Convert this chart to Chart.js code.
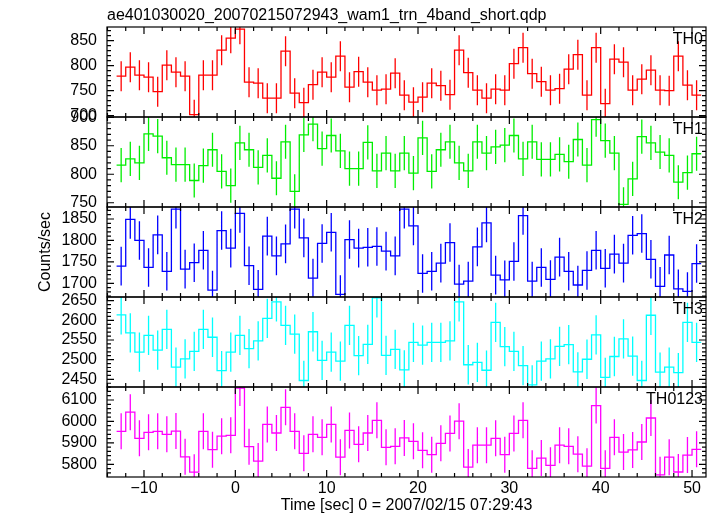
<!DOCTYPE html>
<html><head><meta charset="utf-8">
<script src="https://cdn.jsdelivr.net/npm/chart.js@4/dist/chart.umd.min.js"></script>
<style>html,body{margin:0;padding:0;background:#fff}canvas{display:block}</style>
</head><body>
<canvas id="c" width="717" height="516"></canvas>
<script>
// ---------------- data ----------------
const titleText = 'ae401030020_20070215072943_wam1_trn_4band_short.qdp';
const xTitle = 'Time [sec] 0 = 2007/02/15 07:29:43';
const yTitle = 'Counts/sec';
const binWidth = 1;
const times = [-12.5,-11.5,-10.5,-9.5,-8.5,-7.5,-6.5,-5.5,-4.5,-3.5,-2.5,-1.5,-0.5,0.5,1.5,2.5,3.5,4.5,5.5,6.5,7.5,8.5,9.5,10.5,11.5,12.5,13.5,14.5,15.5,16.5,17.5,18.5,19.5,20.5,21.5,22.5,23.5,24.5,25.5,26.5,27.5,28.5,29.5,30.5,31.5,32.5,33.5,34.5,35.5,36.5,37.5,38.5,39.5,40.5,41.5,42.5,43.5,44.5,45.5,46.5,47.5,48.5,49.5,50.5];
const th0 = [779,797,781,777,748,801,787,779,702,781,781,831,855,873,767,765,735,735,829,745,726,762,787,777,819,757,788,767,751,753,785,741,727,737,765,760,742,831,786,751,735,753,751,804,836,784,768,751,754,793,822,741,836,724,813,807,751,773,791,751,750,819,761,741];
const th1 = [816,827,820,871,867,829,817,817,789,815,843,805,780,855,843,812,833,793,857,770,869,888,845,868,841,810,810,856,806,837,806,837,802,864,805,843,857,820,806,857,837,848,851,868,827,857,826,826,835,822,861,816,896,859,837,747,792,866,855,839,833,786,803,836];
const th2 = [1740,1849,1800,1737,1813,1728,1873,1733,1748,1777,1684,1823,1782,1863,1741,1686,1810,1764,1792,1873,1806,1712,1793,1819,1674,1802,1782,1784,1786,1775,1764,1873,1834,1723,1728,1747,1795,1698,1705,1785,1841,1719,1708,1751,1858,1705,1737,1709,1761,1728,1696,1730,1777,1735,1768,1747,1812,1816,1756,1693,1766,1687,1681,1746];
const th3 = [2614,2568,2519,2562,2524,2577,2481,2502,2521,2577,2557,2472,2519,2562,2528,2548,2605,2647,2587,2565,2447,2571,2498,2519,2496,2587,2510,2539,2657,2511,2526,2474,2544,2537,2544,2544,2548,2647,2487,2493,2473,2595,2533,2521,2485,2436,2496,2502,2534,2538,2469,2501,2563,2455,2508,2553,2509,2447,2613,2468,2481,2467,2595,2544];
const th0123 = [5954,6043,5921,5949,5954,5940,5955,5835,5763,5954,5868,5931,5935,6156,5882,5815,5986,5946,6066,5954,5851,5940,5926,5986,5833,5958,5893,5946,6005,5879,5884,5923,5907,5865,5845,5898,5944,6001,5787,5889,5889,5921,5845,5944,6005,5781,5829,5795,5889,5884,5847,5791,6074,5781,5926,5857,5867,5904,6016,5751,5833,5764,5843,5870];
const th0Err = 30, th1Err = 30, th2Err = 45, th3Err = 50, th0123Err = 84;
const xTickValues = [-10,0,10,20,30,40,50];
const th0Ticks = [700,750,800,850];
const th1Ticks = [750,800,850,900];
const th2Ticks = [1700,1750,1800,1850];
const th3Ticks = [2450,2500,2550,2600,2650];
const th0123Ticks = [5800,5900,6000,6100];

// ---------------- layout / style ----------------
const xMin = -14.05, xMax = 51.53;
const panels = [
  {id:'y0', label:'TH0',    vals:th0,    err:th0Err,    ticks:th0Ticks,    min:697.4,  max:877.4,  minor:10, major:50,  color:'#ff0000', weight:5},
  {id:'y1', label:'TH1',    vals:th1,    err:th1Err,    ticks:th1Ticks,    min:742.5,  max:900.5,  minor:10, major:50,  color:'#00ee00', weight:4},
  {id:'y2', label:'TH2',    vals:th2,    err:th2Err,    ticks:th2Ticks,    min:1668,   max:1878,   minor:10, major:50,  color:'#0000ff', weight:3},
  {id:'y3', label:'TH3',    vals:th3,    err:th3Err,    ticks:th3Ticks,    min:2430.4, max:2659.4, minor:10, major:50,  color:'#00ffff', weight:2},
  {id:'y4', label:'TH0123', vals:th0123, err:th0123Err, ticks:th0123Ticks, min:5740.7, max:6160.7, minor:20, major:100, color:'#ff00ff', weight:1}
];
const FONT = '"Liberation Sans", Arial, Helvetica, sans-serif';
Chart.defaults.font.family = FONT;
Chart.defaults.color = '#000';

function stepPoints(vals) {
  const pts = times.map((t, i) => ({x: t - binWidth / 2, y: vals[i]}));
  pts.push({x: times[times.length - 1] + binWidth / 2, y: vals[vals.length - 1]});
  return pts;
}
function errPoints(vals, err) {
  const pts = [];
  times.forEach((t, i) => {
    pts.push({x: t, y: vals[i] - err}, {x: t, y: vals[i] + err}, {x: t, y: null});
  });
  return pts;
}

const datasets = [];
panels.forEach(p => {
  datasets.push({data: stepPoints(p.vals), yAxisID: p.id, xAxisID: 'x', stepped: true,
    borderColor: p.color, borderWidth: 1.3, pointRadius: 0, fill: false, tension: 0});
  datasets.push({data: errPoints(p.vals, p.err), yAxisID: p.id, xAxisID: 'x', spanGaps: false,
    borderColor: p.color, borderWidth: 1.3, pointRadius: 0, fill: false, tension: 0});
});

const scales = {
  x: {type: 'linear', position: 'bottom', min: xMin, max: xMax,
    afterBuildTicks: s => { s.ticks = xTickValues.map(v => ({value: v})); },
    afterFit: s => { s.height = 39; },
    grid: {display: false, drawTicks: false}, border: {display: false},
    ticks: {padding: 2, autoSkip: false, maxRotation: 0, font: {size: 16}, color: '#000',
      callback: v => v < 0 ? '\u2212' + Math.abs(v) : String(v)},
    title: {display: true, text: xTitle, font: {size: 16}, color: '#000', padding: {top: 0, bottom: 1}}
  }
};
panels.forEach(p => {
  scales[p.id] = {type: 'linear', position: 'left', stack: 'qdp', stackWeight: 1, weight: p.weight,
    min: p.min, max: p.max,
    afterBuildTicks: s => { s.ticks = p.ticks.map(v => ({value: v})); },
    afterFit: s => { s.width = 107; },
    grid: {display: false, drawTicks: false}, border: {display: false},
    ticks: {padding: 10, autoSkip: false, font: {size: 16}, color: '#000', callback: v => String(v)},
    title: p.id === 'y2'
      ? {display: true, text: yTitle, font: {size: 16}, color: '#000', padding: {top: 36, bottom: 0}}
      : {display: false}
  };
});

const qdpPlugin = {
  id: 'qdp',
  beforeDatasetDraw(chart, args) {
    const m = args.meta, ctx = chart.ctx;
    ctx.save();
    ctx.beginPath();
    ctx.rect(m.xScale.left, m.yScale.top, m.xScale.width, m.yScale.height);
    ctx.clip();
  },
  afterDatasetDraw(chart) { chart.ctx.restore(); },
  afterDraw(chart) {
    const ctx = chart.ctx, xs = chart.scales.x;
    ctx.save();
    ctx.strokeStyle = '#000';
    ctx.lineWidth = 1.2;
    panels.forEach(p => {
      const ys = chart.scales[p.id];
      const L = xs.left, R = xs.right, T = ys.top, B = ys.bottom;
      ctx.strokeRect(L, T, R - L, B - T);
      ctx.beginPath();
      const i0 = Math.ceil(xs.min / 2), i1 = Math.floor(xs.max / 2);
      for (let i = i0; i <= i1; i++) {
        const t = i * 2;
        const px = xs.getPixelForValue(t);
        const len = (t % 10 === 0) ? 7 : 4;
        ctx.moveTo(px, B); ctx.lineTo(px, B - len);
        ctx.moveTo(px, T); ctx.lineTo(px, T + len);
      }
      const j0 = Math.ceil(ys.min / p.minor), j1 = Math.floor(ys.max / p.minor);
      for (let j = j0; j <= j1; j++) {
        const v = j * p.minor;
        const py = ys.getPixelForValue(v);
        const len = (v % p.major === 0) ? 7 : 4;
        ctx.moveTo(L, py); ctx.lineTo(L + len, py);
        ctx.moveTo(R, py); ctx.lineTo(R - len, py);
      }
      ctx.stroke();
      ctx.fillStyle = '#000';
      ctx.font = '16px ' + FONT;
      ctx.textAlign = 'right';
      ctx.textBaseline = 'alphabetic';
      ctx.fillText(p.label, R - 3, T + 17);
    });
    ctx.font = '16px ' + FONT;
    ctx.textAlign = 'left';
    ctx.textBaseline = 'alphabetic';
    ctx.fillText(titleText, xs.left, 20);
    ctx.restore();
  }
};

new Chart(document.getElementById('c'), {
  type: 'line',
  data: {datasets},
  options: {
    responsive: false, devicePixelRatio: 1, animation: false,
    layout: {padding: {left: 0, right: 11, top: 27, bottom: 0}},
    plugins: {legend: {display: false}, tooltip: {enabled: false}, title: {display: false}},
    events: [],
    scales
  },
  plugins: [qdpPlugin]
});
</script>
</body></html>
